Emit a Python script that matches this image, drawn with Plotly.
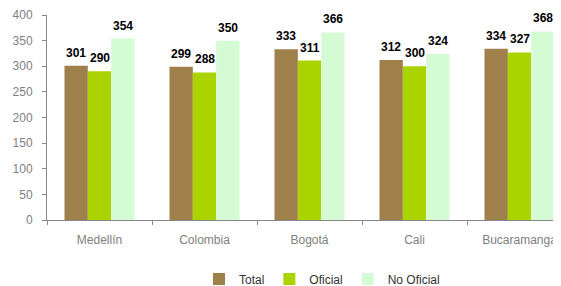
import plotly.graph_objects as go

categories = ["Medellín", "Colombia", "Bogotá", "Cali", "Bucaramanga"]
total = [301, 299, 333, 312, 334]
oficial = [290, 288, 311, 300, 327]
no_oficial = [354, 350, 366, 324, 368]

series = [("Total", total, "#A0804A"), ("Oficial", oficial, "#AAD300"), ("No Oficial", no_oficial, "#D5FBD5")]

FONT = "Liberation Sans, Arial"
bar_px = 105 * (1 - 0.333) / 3

fig = go.Figure()
for i, (name, vals, col) in enumerate(series):
    fig.add_trace(go.Bar(
        x=categories, y=vals, name=name, marker_color=col, marker_line_width=0,
    ))
    for c, v in zip(categories, vals):
        fig.add_annotation(x=c, y=v, text=str(v), showarrow=False, yanchor="bottom",
                           xshift=(i - 1) * bar_px, yshift=4,
                           font=dict(family=FONT, size=12, color="#000000", weight="bold"))

fig.update_layout(
    width=553, height=278,
    margin=dict(l=39, r=0, t=7, b=66, autoexpand=False),
    paper_bgcolor="white", plot_bgcolor="white",
    barmode="group", bargap=0.333, bargroupgap=0,
    font=dict(family=FONT, size=12, color="#808080"),
    showlegend=True,
    legend=dict(orientation="h", x=0.535, xanchor="center", y=-0.288, yanchor="middle",
                font=dict(size=12, color="#333333"), itemwidth=30, traceorder="normal"),
)
fig.update_xaxes(range=[-0.5, 4.395], showline=True, linecolor="#888888", linewidth=1,
                 ticks="outside", tickson="boundaries", ticklen=4, tickcolor="#888888",
                 showgrid=False, automargin=False, ticklabelstandoff=9,
                 tickfont=dict(size=12, color="#808080"))
fig.update_yaxes(range=[0, 400], dtick=50, showline=True, linecolor="#888888", linewidth=1,
                 ticks="outside", ticklen=4, tickcolor="#888888", showgrid=False, zeroline=False,
                 automargin=False, ticklabelstandoff=7,
                 tickfont=dict(size=12, color="#808080"))

fig.write_html("out.html")
